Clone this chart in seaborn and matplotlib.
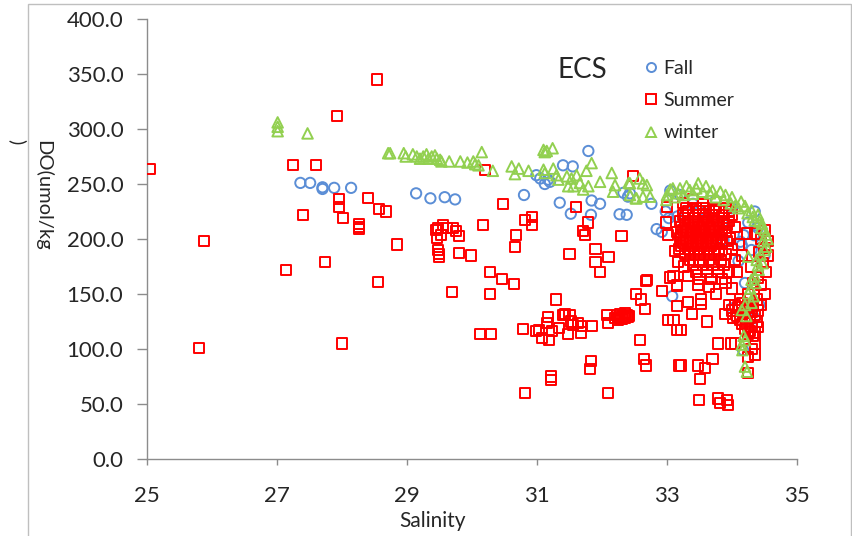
import matplotlib
matplotlib.use("Agg")
import matplotlib.pyplot as plt
import seaborn as sns
import pandas as pd
from matplotlib.patches import Rectangle
from matplotlib.lines import Line2D

# ---------------- data ----------------
fall_sal = [27.36, 27.51, 27.70, 27.70, 27.88, 28.14,
            29.14, 29.36, 29.58, 29.74, 30.80, 30.99, 31.05, 31.12, 31.17, 31.20, 31.40, 31.55, 31.79,
            31.35, 31.52, 31.84, 31.97, 31.83, 32.27, 32.33, 32.40, 32.76, 32.84,
            32.43, 32.38, 32.98, 33.03, 33.16, 32.92, 33.87, 34.13, 34.18, 34.34, 33.08, 34.00, 34.17, 34.15,
            33.40, 33.60, 33.75, 34.00, 34.25, 34.35, 34.40, 34.45, 34.50, 34.30, 33.20, 33.05, 34.42, 34.35,
            34.20, 34.10, 33.85]
fall_do = [251, 251, 247, 245.5, 246.5, 246.5,
           241.5, 237, 238, 236, 240, 258, 255, 250, 254, 252, 267, 266, 280,
           233, 223, 235, 232, 222, 222.5, 242, 238.5, 232, 209,
           241.5, 222, 225, 219, 220.5, 206.5, 199, 197.5, 203.5, 203.5, 148, 137, 99, 194.5,
           232, 225, 235, 228, 215, 225, 210, 195, 185, 190, 240, 244, 140, 128,
           160, 180, 215]

summer_sal = [25.05, 25.88, 25.80, 27.14, 27.25, 27.40, 27.60, 27.74, 27.92, 27.95, 27.95, 28.02, 28.00,
              28.26, 28.26, 28.26, 28.40, 28.56, 28.54, 28.57, 28.68, 28.85,
              29.45, 29.46, 29.47, 29.56, 29.53, 29.61, 29.71, 29.76, 29.80, 29.48, 29.49, 29.49, 29.80, 29.99,
              29.69, 30.17, 30.20, 30.28, 30.46, 30.65, 30.28, 30.47, 30.68, 30.66, 30.82, 30.93, 30.93, 31.29,
              30.12, 30.29, 30.78, 30.99, 31.03, 31.07, 31.18, 31.17, 31.15, 31.23, 31.34, 31.40, 31.43, 31.48,
              31.50, 31.53, 31.56, 31.63, 31.68, 31.67, 31.84, 31.21, 31.21, 30.82, 31.83, 31.82, 32.09,
              31.50, 31.60, 31.79, 31.71, 31.74, 31.90, 31.90, 32.10, 31.97, 32.30, 32.47, 32.07, 32.09,
              32.20, 32.23, 32.26, 32.28, 32.30, 32.33, 32.35, 32.38, 32.40, 32.42, 32.25, 32.36,
              32.58, 32.64, 32.68, 32.52, 32.60, 32.66, 32.67, 32.92, 33.02, 33.10, 33.16, 33.18, 33.10, 33.15, 32.69,
              33.02, 33.05, 33.16, 33.33, 33.26, 33.17, 33.12, 33.16, 33.32, 33.53, 33.39, 33.53, 33.61, 33.21,
              33.22, 33.47, 33.58, 33.70, 33.51, 33.49, 33.79, 33.82, 33.94, 33.92, 33.78, 33.99, 34.05, 34.24,
              34.28, 34.15, 34.22, 34.25,
              34.00, 34.05, 34.08, 34.10, 34.12, 34.15, 34.18, 34.20, 34.22, 34.25, 34.28, 34.30, 34.32, 34.02,
              34.35, 34.27, 34.12, 33.95, 33.90, 34.38, 34.30, 34.20, 34.33, 34.36, 34.30, 34.25, 34.35,
              33.30, 33.45, 33.60, 33.75, 33.90,
              33.25, 33.40, 33.55, 33.70, 33.85, 34.00,
              33.20, 33.32, 33.48, 33.62, 33.78, 33.95,
              33.22, 33.38, 33.50, 33.66, 33.80, 34.05,
              33.15, 33.30, 33.44, 33.58, 33.72, 33.90,
              33.20, 33.35, 33.50, 33.63, 33.77, 33.97,
              33.25, 33.40, 33.55, 33.70, 33.85,
              33.18, 33.33, 33.48, 33.62, 33.80, 34.00,
              33.27, 33.42, 33.57, 33.72, 33.90,
              33.35, 33.50, 33.65, 33.83, 34.05,
              33.40, 33.55, 33.70, 33.88,
              33.45, 33.62, 33.78, 33.95,
              33.50, 33.68, 33.85,
              33.32, 33.50, 33.65, 33.80, 33.95,
              33.28, 33.42, 33.58, 33.72, 33.88,
              33.27, 33.42, 33.56, 33.70, 33.86,
              33.25, 33.37, 33.52, 33.64, 33.80,
              33.22, 33.40, 33.54, 33.68, 33.84,
              33.30, 33.45, 33.60, 33.75, 33.92,
              33.22, 33.38, 33.52, 33.68,
              33.35, 33.50, 33.65, 33.80,
              33.25, 33.40, 33.55, 33.72, 33.92, 34.10, 34.15, 34.08, 33.65, 33.75, 33.90, 34.00, 33.48,
              34.35, 34.45, 34.50, 34.55, 34.48, 34.52, 34.40, 34.45, 34.50, 34.38, 34.42, 34.30, 34.33, 34.25,
              34.40, 34.45, 34.35, 34.40, 34.50, 34.55, 34.23, 33.00, 32.98]
summer_do = [264, 198, 101, 172, 267, 222, 267, 179, 312, 236, 229, 219, 105,
             214, 211, 209, 237, 161, 345, 227, 225, 195,
             208, 201, 210, 213, 204, 210, 210, 207, 203, 190, 186, 184, 187, 185,
             152, 213, 263, 170, 164, 159, 150, 232, 204, 193, 217, 220, 213, 145,
             114, 114, 118, 116, 117, 110, 108, 129, 124, 116, 119, 131, 132, 114,
             131, 125, 122, 124, 121, 115, 121, 75, 72, 60, 89, 82, 60,
             186, 229, 215, 207, 204, 191, 179, 184, 170, 203, 257, 131, 124,
             128, 131, 129, 132, 127, 130, 128, 131, 129, 130, 126, 133,
             108, 91, 85, 150, 145, 136, 162, 153, 126, 126, 117, 85, 166, 158, 163,
             204, 165, 157, 166, 175, 179, 189, 139, 143, 145, 132, 141, 125, 117,
             85, 85, 83, 91, 73, 54, 55, 51, 49, 54, 105, 105, 105, 114,
             116, 123, 125, 78,
             135, 140, 130, 138, 126, 142, 133, 129, 137, 141, 128, 134, 139, 128,
             131, 145, 145, 140, 132, 125, 120, 118, 112, 105, 100, 93, 95,
             228, 228, 228, 228, 228,
             222, 222, 222, 222, 222, 222,
             216, 216, 216, 216, 216, 216,
             211, 211, 211, 211, 211, 211,
             206, 206, 206, 206, 206, 206,
             201, 201, 201, 201, 201, 201,
             196, 196, 196, 196, 196,
             191, 191, 191, 191, 191, 191,
             186, 186, 186, 186, 186,
             181, 181, 181, 181, 181,
             176, 176, 176, 176,
             170, 170, 170, 170,
             164, 164, 164,
             225, 225, 225, 225, 225,
             219, 219, 219, 219, 219,
             213.5, 213.5, 213.5, 213.5, 213.5,
             208.5, 208.5, 208.5, 208.5, 208.5,
             203.5, 203.5, 203.5, 203.5, 203.5,
             198.5, 198.5, 198.5, 198.5, 198.5,
             193.5, 193.5, 193.5, 193.5,
             188.5, 188.5, 188.5, 188.5,
             233, 236, 232, 226, 213, 195, 185, 170, 156, 150, 160, 155, 158,
             205, 200, 192, 185, 178, 170, 165, 158, 150, 145, 188, 175, 160, 150,
             135, 140, 115, 120, 208, 198, 205, 229, 215]

winter_sal = [27.01, 27.01, 27.01, 27.47, 28.71, 28.74,
              28.95, 28.98, 29.09, 29.15, 29.20, 29.25, 29.30, 29.33, 29.38, 29.43, 29.46, 29.51, 29.53, 29.65,
              29.82, 29.93, 30.02, 30.05, 30.10, 30.15, 30.32, 30.61, 30.72, 30.66, 30.87, 31.10, 31.24, 31.12,
              31.15, 31.10, 31.12, 31.25, 31.30, 31.33, 31.46, 31.53, 31.61, 31.66, 31.48, 31.56, 31.76, 31.79,
              31.71, 31.84, 31.97, 32.15, 32.20, 32.17, 32.41, 32.43, 32.53, 32.69,
              32.43, 32.58, 32.63, 32.52, 32.63, 32.74, 32.99, 33.09, 33.17, 33.35, 33.48, 33.55, 33.66, 33.82,
              33.87, 33.98, 34.14, 34.24, 34.35, 34.46, 34.53, 34.25, 34.38, 34.41, 34.35, 34.28, 34.25, 34.15,
              34.20, 34.16, 34.20, 34.23,
              33.00, 33.05, 33.12, 33.20, 33.25, 33.30, 33.40, 33.45, 33.60, 33.70, 33.75, 33.90, 34.00, 34.05,
              34.10, 34.20, 34.30, 34.32, 34.40, 34.42, 34.45, 34.50, 34.52, 34.55, 34.48, 34.50, 34.44, 34.47,
              34.40, 34.36, 34.30, 34.33, 34.30, 34.20, 34.22, 34.18, 34.15]
winter_do = [306, 302, 298, 296, 278, 278,
             278, 275, 277, 275, 273, 275, 277, 273, 275, 276, 273, 272, 270.5, 270.5,
             270.5, 269.5, 270.5, 268, 267, 279, 262, 266, 264, 259, 262, 281, 282.5, 279,
             280, 263, 260, 264, 258, 254, 257, 255, 258, 251, 248, 248, 262, 248,
             245, 269, 252, 260, 249, 243, 251, 240, 237, 249,
             250.6, 255, 250.6, 237, 238.5, 238.5, 235.5, 246, 241.5, 244.5, 250.6, 243, 241.5, 243,
             235.5, 232.4, 234, 223.4, 217, 214, 193, 184, 181, 172, 166, 155, 150.6, 135.5,
             108, 99, 84, 79.4,
             240, 245, 238, 246, 240, 248, 241, 246, 248, 244, 238, 240, 238, 230,
             228, 230, 226, 220, 222, 216, 210, 208, 204, 200, 198, 190, 186, 178,
             176, 160, 163, 148, 142, 140, 130, 112, 104]

series_names = ["Fall", "Summer", "winter"]
x_ticks = [25, 27, 29, 31, 33, 35]
y_ticks = [0, 50, 100, 150, 200, 250, 300, 350, 400]

# ---------------- styling ----------------
FONT = ["Lato", "DejaVu Sans"]
sns.set_style("white")
plt.rcParams["font.family"] = FONT

W, H = 853, 536
fig = plt.figure(figsize=(W / 100, H / 100), dpi=100)
ax = fig.add_axes([147 / W, 77 / H, 650 / W, 440 / H])

colors = {"Fall": "#5B8ED6", "Summer": "#FF0000", "winter": "#92D050"}
markers = {"Fall": "o", "Summer": "s", "winter": "^"}
sizes = {"Fall": 55, "Summer": 52, "winter": 58}
data = {
    "Fall": (fall_sal, fall_do),
    "Summer": (summer_sal, summer_do),
    "winter": (winter_sal, winter_do),
}
for name in series_names:
    xs, ys = data[name]
    df = pd.DataFrame({"Salinity": xs, "DO": ys})
    sns.scatterplot(data=df, x="Salinity", y="DO", ax=ax, marker=markers[name],
                    s=sizes[name], facecolor="none", edgecolor=colors[name],
                    linewidth=1.4, legend=False, zorder=3)

ax.set_xlim(25, 35)
ax.set_ylim(0, 400)
ax.set_xticks(x_ticks)
ax.set_xticklabels([str(t) for t in x_ticks])
ax.set_yticks(y_ticks)
ax.set_yticklabels([f"{t:.1f}" for t in y_ticks])
for s in ["top", "right"]:
    ax.spines[s].set_visible(False)
for s in ["left", "bottom"]:
    ax.spines[s].set_color("#8C8C8C")
    ax.spines[s].set_linewidth(1.0)
ax.tick_params(axis="y", direction="out", length=7, width=1, color="#8C8C8C",
               labelsize=16, pad=10, left=True)
ax.tick_params(axis="x", direction="out", length=4, width=1, color="#8C8C8C",
               labelsize=16, pad=15.5, bottom=True)
ax.set_xlabel("")
ax.set_ylabel("")
ax.grid(False)

# axis titles
fig.text(433 / W, 1 - 521 / H, "Salinity", ha="center", va="center", fontsize=15)
fig.text(43 / W, 1 - 195 / H, "DO(umol/kg", rotation=-90, ha="center", va="center", fontsize=14.5)
fig.text(17 / W, 1 - 142 / H, ")", rotation=-90, ha="center", va="center", fontsize=14)

# title
fig.text(582 / W, 1 - 70 / H, "ECS", ha="center", va="center", fontsize=20)

# legend
handles = [Line2D([], [], linestyle="none", marker=markers[n], markersize=6.5,
                  markerfacecolor="none", markeredgecolor=colors[n], markeredgewidth=1.4,
                  label=n) for n in series_names]
leg = ax.legend(handles=handles, loc="upper left", bbox_to_anchor=(642 / W, 1 - 60 / H),
                bbox_transform=fig.transFigure, frameon=False, fontsize=14,
                handlelength=0.9, handletextpad=0.2, labelspacing=0.78, borderpad=0,
                borderaxespad=0)

# chart-area border
fig.add_artist(Rectangle((28 / W, -0.05), 823 / W, 1.05 - 4 / H, transform=fig.transFigure,
                         fill=False, edgecolor="#BFBFBF", linewidth=1.0))

fig.savefig("out.png", dpi=100)
